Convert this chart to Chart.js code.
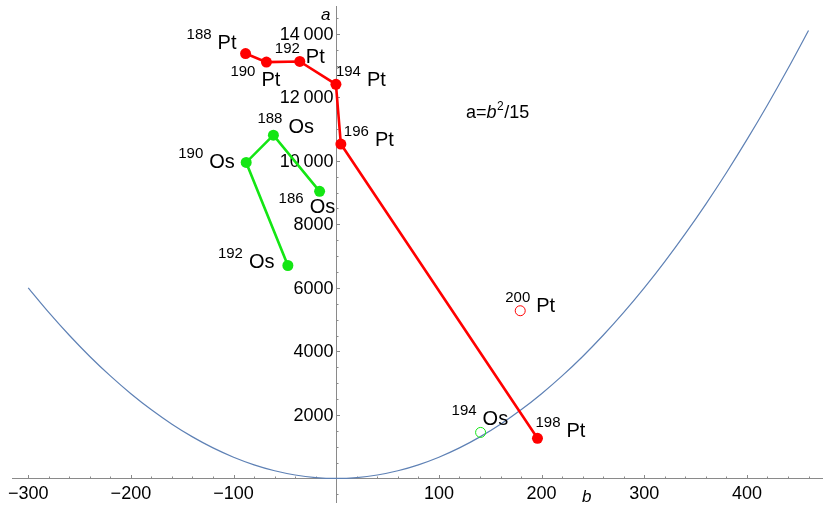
<!DOCTYPE html>
<html>
<head>
<meta charset="utf-8">
<script src="https://cdn.jsdelivr.net/npm/chart.js@4.4.1/dist/chart.umd.min.js"></script>
<style>
  html, body { margin: 0; padding: 0; background: #fff; }
  canvas { display: block; }
</style>
</head>
<body>
<canvas id="myChart" width="829" height="509"></canvas>
<script>
// Pt isotopes (filled, joined)
var ptMass = [188, 190, 192, 194, 196, 198];
var ptB = [-88.3, -68.0, -35.5, -0.3, 4.5, 196.0];
var ptA = [13380, 13110, 13130, 12410, 10530, 1262];

// Os isotopes (filled, joined)
var osMass = [186, 188, 190, 192];
var osB = [-16.2, -61.2, -87.7, -47.1];
var osA = [9040, 10810, 9950, 6705];

// open circles
var ptOpenMass = [200];
var ptOpenB = [179.2];
var ptOpenA = [5280];
var osOpenMass = [194];
var osOpenB = [140.6];
var osOpenA = [1448];

// curve a = b^2/15
var curveB = [-300, -280, -260, -240, -220, -200, -180, -160, -140, -120, -100, -80, -60, -40, -20, 0,
              20, 40, 60, 80, 100, 120, 140, 160, 180, 200, 220, 240, 260, 280, 300, 320, 340, 360, 380, 400, 420, 440, 460];
var curveA = [6000, 5227, 4507, 3840, 3227, 2667, 2160, 1707, 1307, 960, 667, 427, 240, 107, 27, 0,
              27, 107, 240, 427, 667, 960, 1307, 1707, 2160, 2667, 3227, 3840, 4507, 5227, 6000, 6827, 7707, 8640, 9627, 10667, 11760, 12907, 14107];

// axis ticks
var xTickValues = [-300, -200, -100, 100, 200, 300, 400];
var xTickLabels = ['\u2212300', '\u2212200', '\u2212100', '100', '200', '300', '400'];
var yTickValues = [2000, 4000, 6000, 8000, 10000, 12000, 14000];
var yTickLabels = ['2000', '4000', '6000', '8000', '10\u2009000', '12\u2009000', '14\u2009000'];

// label placement (pixel offsets from point: left of mass number, baseline of symbol)
var ptLabelOff = [[-59, -5], [-36, 24], [-25, 2], [0, 2], [3, 2], [-2, -1]];
var osLabelOff = [[-41, 22], [-16, -2], [-68, 6], [-70, 3]];
var ptOpenLabelOff = [[-15, 1]];
var osOpenLabelOff = [[-29, -7]];

var RED = 'rgb(255, 0, 0)';
var GREEN = 'rgb(20, 230, 20)';
var AXIS = '#8a8a8a';
var FONT = '"Liberation Sans", Arial, Helvetica, sans-serif';

function pts(bs, as) {
    var out = [];
    for (let i = 0; i < bs.length; i++) {
        out.push({x: bs[i], y: as[i]});
    }
    return out;
}

var axesPlugin = {
    id: 'mmaAxes',
    beforeDatasetsDraw: function (chart) {
        var ctx = chart.ctx;
        var xs = chart.scales.x, ys = chart.scales.y;
        var area = chart.chartArea;
        var x0 = Math.round(xs.getPixelForValue(0)) + 0.5;
        var y0 = Math.round(ys.getPixelForValue(0)) + 0.5;
        ctx.save();
        ctx.strokeStyle = AXIS;
        ctx.lineWidth = 1;
        ctx.beginPath();
        ctx.moveTo(area.left, y0); ctx.lineTo(area.right, y0);
        ctx.moveTo(x0, area.top); ctx.lineTo(x0, area.bottom);
        // x ticks
        for (let v = -300; v <= 460; v += 20) {
            if (v === 0) continue;
            let px = Math.round(xs.getPixelForValue(v)) + 0.5;
            let len = (v % 100 === 0) ? 3.5 : 2;
            ctx.moveTo(px, y0); ctx.lineTo(px, y0 - len);
        }
        // y ticks
        for (let v = -500; v <= 14500; v += 500) {
            if (v === 0) continue;
            let py = Math.round(ys.getPixelForValue(v)) + 0.5;
            let len = (v % 2000 === 0) ? 3.5 : 2;
            ctx.moveTo(x0, py); ctx.lineTo(x0 + len, py);
        }
        ctx.stroke();

        ctx.fillStyle = '#000';
        ctx.font = '18px ' + FONT;
        ctx.textAlign = 'center';
        ctx.textBaseline = 'alphabetic';
        for (let i = 0; i < xTickValues.length; i++) {
            ctx.fillText(xTickLabels[i], xs.getPixelForValue(xTickValues[i]), y0 + 20);
        }
        ctx.textAlign = 'right';
        ctx.textBaseline = 'middle';
        for (let i = 0; i < yTickValues.length; i++) {
            ctx.fillText(yTickLabels[i], x0 - 3, ys.getPixelForValue(yTickValues[i]) + 1);
        }
        // axis names
        ctx.font = 'italic 17px ' + FONT;
        ctx.textBaseline = 'alphabetic';
        ctx.textAlign = 'right';
        ctx.fillText('a', x0 - 6, area.top + 14);
        ctx.textAlign = 'left';
        ctx.fillText('b', 582, y0 + 23);
        ctx.restore();
    }
};

function drawIsoLabel(ctx, px, py, off, mass, sym) {
    var x = px + off[0];
    var y = py + off[1];
    ctx.font = '15px ' + FONT;
    var m = String(mass);
    ctx.fillText(m, x, y - 10);
    var w = ctx.measureText(m).width;
    ctx.font = '20px ' + FONT;
    ctx.fillText(sym, x + w + 6, y);
}

var labelPlugin = {
    id: 'isoLabels',
    afterDraw: function (chart) {
        var ctx = chart.ctx;
        var xs = chart.scales.x, ys = chart.scales.y;
        ctx.save();
        ctx.fillStyle = '#000';
        ctx.textAlign = 'left';
        ctx.textBaseline = 'alphabetic';
        var groups = [
            [ptMass, ptB, ptA, ptLabelOff, 'Pt'],
            [osMass, osB, osA, osLabelOff, 'Os'],
            [ptOpenMass, ptOpenB, ptOpenA, ptOpenLabelOff, 'Pt'],
            [osOpenMass, osOpenB, osOpenA, osOpenLabelOff, 'Os']
        ];
        groups.forEach(function (g) {
            for (let i = 0; i < g[0].length; i++) {
                drawIsoLabel(ctx, xs.getPixelForValue(g[1][i]), ys.getPixelForValue(g[2][i]), g[3][i], g[0][i], g[4]);
            }
        });

        // formula a=b^2/15
        var fx = xs.getPixelForValue(126.4);
        var fy = ys.getPixelForValue(11350);
        ctx.font = '18px ' + FONT;
        ctx.fillText('a=', fx, fy);
        fx += ctx.measureText('a=').width;
        ctx.font = 'italic 18px ' + FONT;
        ctx.fillText('b', fx, fy);
        fx += ctx.measureText('b').width;
        ctx.font = '12px ' + FONT;
        ctx.fillText('2', fx + 0.5, fy - 8);
        fx += ctx.measureText('2').width + 1;
        ctx.font = '18px ' + FONT;
        ctx.fillText('/15', fx, fy);
        ctx.restore();
    }
};

var ctx = document.getElementById('myChart').getContext('2d');
var myChart = new Chart(ctx, {
    type: 'scatter',
    data: {
        datasets: [
            {
                label: 'Pt',
                data: pts(ptB, ptA),
                showLine: true,
                borderColor: RED,
                backgroundColor: RED,
                borderWidth: 2.6,
                pointRadius: 5.5,
                pointBorderWidth: 0,
                order: 1
            },
            {
                label: 'Os',
                data: pts(osB, osA),
                showLine: true,
                borderColor: GREEN,
                backgroundColor: GREEN,
                borderWidth: 2.6,
                pointRadius: 5.5,
                pointBorderWidth: 0,
                order: 1
            },
            {
                label: 'Pt open',
                data: pts(ptOpenB, ptOpenA),
                pointRadius: 5,
                pointBorderWidth: 1,
                pointBorderColor: RED,
                pointBackgroundColor: 'rgba(255,255,255,0)',
                order: 1
            },
            {
                label: 'Os open',
                data: pts(osOpenB, osOpenA),
                pointRadius: 5,
                pointBorderWidth: 1,
                pointBorderColor: GREEN,
                pointBackgroundColor: 'rgba(255,255,255,0)',
                order: 1
            },
            {
                label: 'a=b^2/15',
                data: pts(curveB, curveA),
                showLine: true,
                borderColor: '#5e81b5',
                borderWidth: 1.2,
                pointRadius: 0,
                cubicInterpolationMode: 'monotone',
                clip: false,
                order: 5
            }
        ]
    },
    options: {
        responsive: false,
        devicePixelRatio: 1,
        animation: false,
        layout: { padding: { left: 12, top: 4, right: 0, bottom: 0 } },
        plugins: {
            legend: { display: false },
            tooltip: { enabled: false }
        },
        scales: {
            x: { type: 'linear', min: -315.8, max: 474.1, display: false },
            y: { type: 'linear', min: -775, max: 14877, display: false }
        }
    },
    plugins: [axesPlugin, labelPlugin]
});
</script>
</body>
</html>
